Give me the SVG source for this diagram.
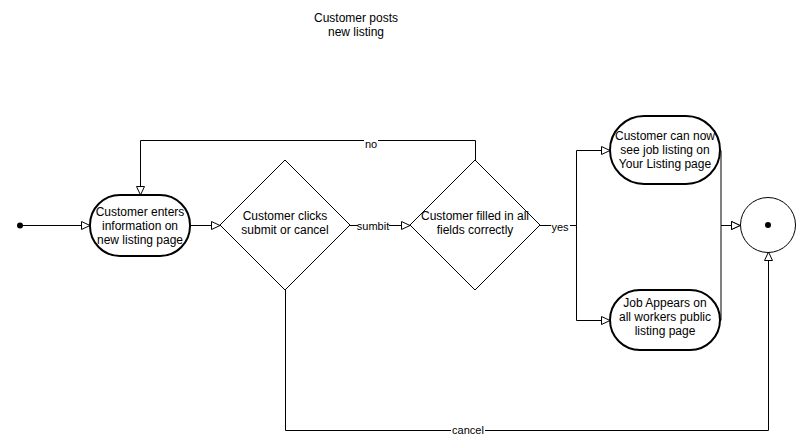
<svg xmlns="http://www.w3.org/2000/svg" width="796" height="442" viewBox="0 0 796 442">
<style>
text{font-family:"Liberation Sans",Arial,Helvetica,sans-serif;font-size:12px;fill:#000;text-anchor:middle}
.node{fill:#fff;stroke:#000;stroke-width:2}
.dia{fill:#fff;stroke:#000;stroke-width:1}
.edge{fill:none;stroke:#000;stroke-width:1}
.lbl{font-size:11px}
</style>
<defs>
<marker id="arr" markerUnits="userSpaceOnUse" markerWidth="12" markerHeight="12" refX="9" refY="4.5" orient="auto" overflow="visible">
<path d="M0.5,0.5 L9,4.5 L0.5,8.5 Z" fill="#fff" stroke="#000" stroke-width="1"/>
</marker>
</defs>
<rect width="796" height="442" fill="#fff"/>
<g id="title">
<text x="356" y="22">Customer posts</text>
<text x="356" y="36">new listing</text>
</g>
<g id="connectors">
<path class="edge" d="M20 225.5 L90 225.5" marker-end="url(#arr)"/>
<path class="edge" d="M190 225.5 L220 225.5" marker-end="url(#arr)"/>
<path class="edge" d="M350 225.5 L410 225.5" marker-end="url(#arr)"/>
<path class="edge" d="M540 225.5 L576.5 225.5 L576.5 150.5 L610 150.5" marker-end="url(#arr)"/>
<path class="edge" d="M576.5 225.5 L576.5 320.5 L610 320.5" marker-end="url(#arr)"/>
<path class="edge" d="M720 150.5 L721 150.5 L721 225.5 L740 225.5" marker-end="url(#arr)"/>
<path class="edge" d="M720 320.5 L721 320.5 L721 225.5 L740 225.5" marker-end="url(#arr)"/>
<path class="edge" d="M475.5 160 L475.5 140.5 L140.5 140.5 L140.5 195" marker-end="url(#arr)"/>
<path class="edge" d="M285.5 290 L285.5 430.5 L768.5 430.5 L768.5 252" marker-end="url(#arr)"/>
<rect x="358" y="219" width="31" height="13" fill="#fff"/>
<text class="lbl" x="373" y="229.5">sumbit</text>
<rect x="551" y="219" width="19" height="13" fill="#fff"/>
<text class="lbl" x="560" y="231">yes</text>
<rect x="364" y="137" width="14" height="13" fill="#fff"/>
<text class="lbl" x="371" y="148">no</text>
<rect x="451" y="424" width="34" height="13" fill="#fff"/>
<text class="lbl" x="468" y="434">cancel</text>
</g>
<g id="start">
<circle cx="20" cy="225.5" r="3" fill="#000"/>
</g>
<g id="enter">
<rect class="node" x="90" y="195" width="100" height="61" rx="30" ry="30"/>
<text x="140" y="216">Customer enters</text>
<text x="140" y="230">information on</text>
<text x="140" y="244">new listing page</text>
</g>
<g id="clicks">
<path class="dia" d="M285 160 L350 225 L285 290 L220 225 Z"/>
<text x="285" y="220">Customer clicks</text>
<text x="285" y="234">submit or cancel</text>
</g>
<g id="filled">
<path class="dia" d="M475 160 L540 225 L475 290 L410 225 Z"/>
<text x="475" y="220">Customer filled in all</text>
<text x="475" y="234">fields correctly</text>
</g>
<g id="yourlisting">
<rect class="node" x="610" y="116" width="110" height="68" rx="34" ry="34"/>
<text x="665" y="140">Customer can now</text>
<text x="665" y="154">see job listing on</text>
<text x="665" y="168">Your Listing page</text>
</g>
<g id="public">
<rect class="node" x="610" y="290" width="110" height="60" rx="30" ry="30"/>
<text x="665" y="307">Job Appears on</text>
<text x="665" y="321">all workers public</text>
<text x="665" y="335">listing page</text>
</g>
<g id="end">
<circle cx="768" cy="225" r="27.5" fill="#fff" stroke="#000" stroke-width="1"/>
<circle cx="768" cy="225" r="3" fill="#000"/>
</g>
</svg>
